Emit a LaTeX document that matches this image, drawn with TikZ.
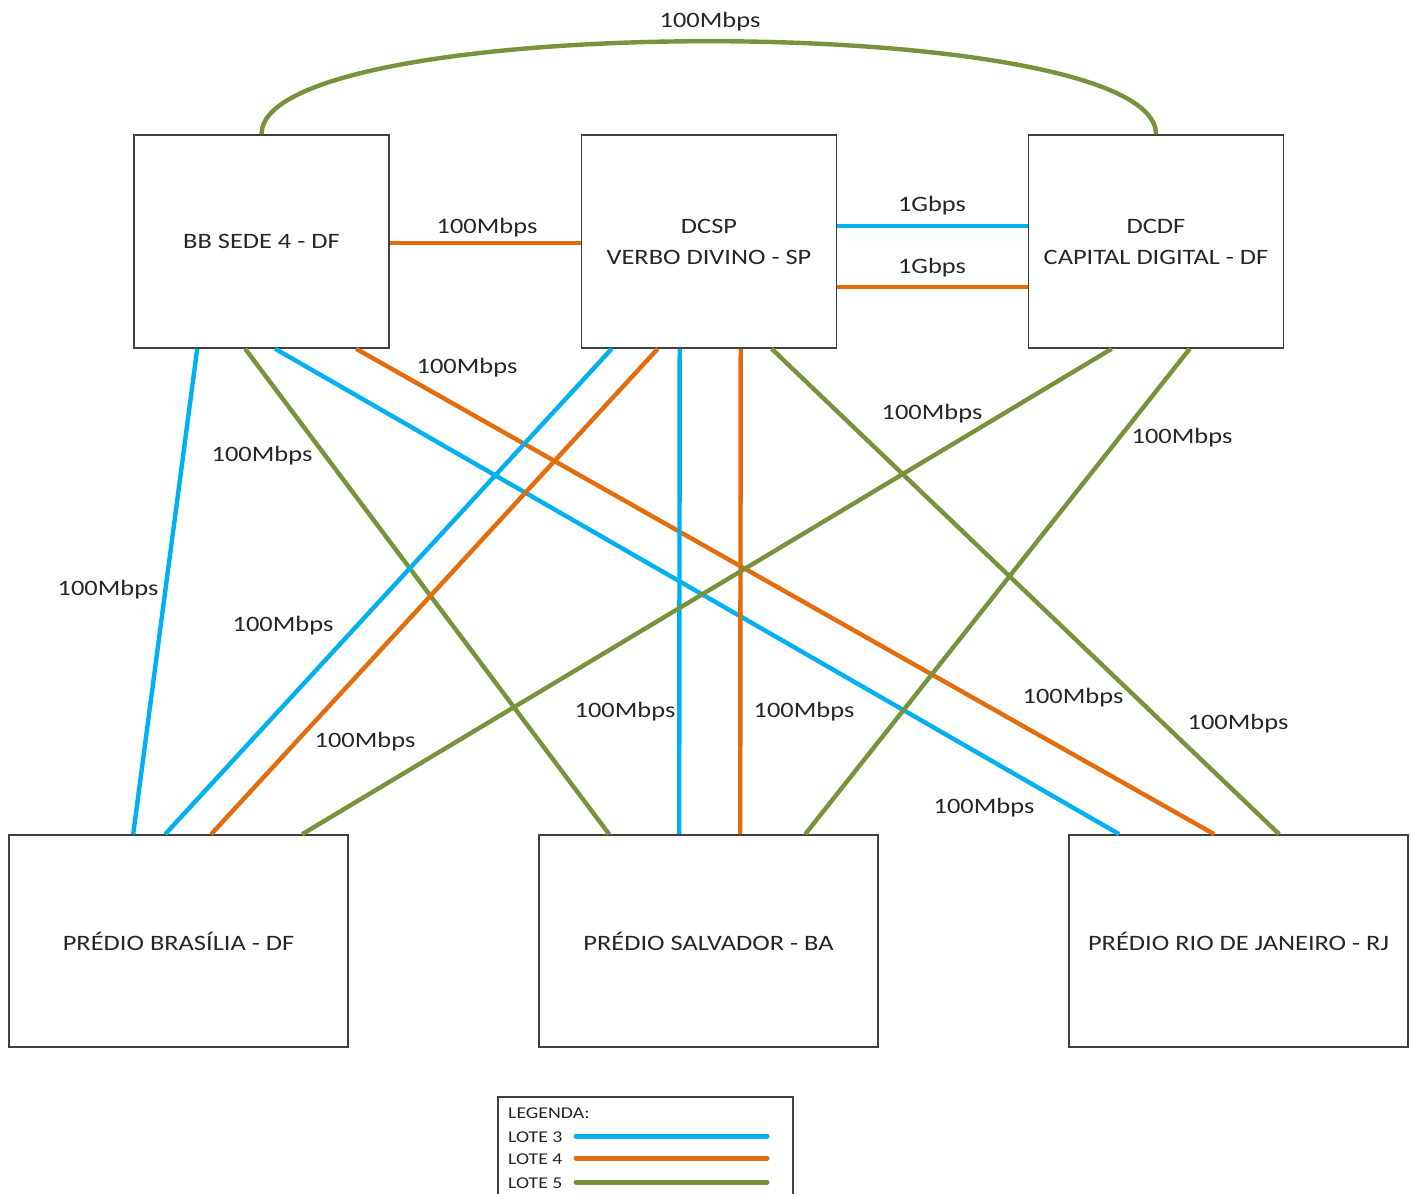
\documentclass[tikz,border=0pt]{standalone}
\usepackage{fontspec}
\setmainfont{Carlito}[FakeStretch=1.2]
\usetikzlibrary{calc}
\definecolor{lblue}{HTML}{00B0F0}
\definecolor{lorange}{HTML}{E46C0A}
\definecolor{lgreen}{HTML}{77933C}
\definecolor{boxgray}{HTML}{404040}
\definecolor{txtgray}{HTML}{262626}
\begin{document}
\begin{tikzpicture}[x=1pt,y=-1pt,
  site/.style={draw=boxgray, line width=1.6pt, fill=white, inner sep=0pt, align=center,
    text=txtgray, font=\fontsize{22}{31}\selectfont},
  small/.style={site, minimum width=255pt, minimum height=213pt},
  big/.style={site, minimum width=339pt, minimum height=212pt},
  lote3/.style={draw=lblue, line width=4.4pt},
  lote4/.style={draw=lorange, line width=4.4pt},
  lote5/.style={draw=lgreen, line width=4.4pt},
  lbl/.style={inner sep=0pt, text=txtgray, font=\fontsize{22}{26}\selectfont},
  legtxt/.style={inner sep=0pt, anchor=west, text=txtgray, font=\fontsize{16.5}{18}\selectfont},
  legline/.style={line width=5pt, line cap=round}
]
\useasboundingbox[fill=white] (0,0) rectangle (1411,1194);

% sites
\node[small] (bb)   at (261.5,241.5) {BB SEDE 4 - DF};
\node[small] (dcsp) at (709,241.5)   {DCSP\\VERBO DIVINO - SP};
\node[small] (dcdf) at (1156,241.5)  {DCDF\\CAPITAL DIGITAL - DF};
\node[big] (bra) at (178.5,941) {PRÉDIO BRASÍLIA - DF};
\node[big] (sal) at (708.5,941) {PRÉDIO SALVADOR - BA};
\node[big] (rio) at (1238.5,941) {PRÉDIO RIO DE JANEIRO - RJ};

% top links
\draw[lote5] (bb.north) .. controls +(0,-124) and +(0,-124) .. (dcdf.north);
\draw[lote4] ([yshift=-1.5pt]bb.east) -- ([yshift=-1.5pt]dcsp.west);
\draw[lote3] ([yshift=15.5pt]dcsp.east) -- ([yshift=15.5pt]dcdf.west);
\draw[lote4] ([yshift=-45.5pt]dcsp.east) -- ([yshift=-45.5pt]dcdf.west);

% from BB SEDE
\draw[lote3] ([xshift=64pt]bb.south west) -- ([xshift=125pt]bra.north west);
\draw[lote5] ([xshift=112pt]bb.south west) -- ([xshift=71pt]sal.north west);
\draw[lote3] ([xshift=142pt]bb.south west) -- ([xshift=51pt]rio.north west);
\draw[lote4] ([xshift=223pt]bb.south west) -- ([xshift=146pt]rio.north west);

% from DCSP
\draw[lote3] ([xshift=31pt]dcsp.south west) -- ([xshift=157pt]bra.north west);
\draw[lote4] ([xshift=77pt]dcsp.south west) -- ([xshift=203pt]bra.north west);
\draw[lote3] ([xshift=99pt]dcsp.south west) -- ([xshift=141pt]sal.north west);
\draw[lote4] ([xshift=160pt]dcsp.south west) -- ([xshift=202pt]sal.north west);
\draw[lote5] ([xshift=191pt]dcsp.south west) -- ([xshift=211pt]rio.north west);

% from DCDF
\draw[lote5] ([xshift=84pt]dcdf.south west) -- ([xshift=294pt]bra.north west);
\draw[lote5] ([xshift=162pt]dcdf.south west) -- ([xshift=267pt]sal.north west);

% labels
\node[lbl] (t0)  at (710,22)   {100Mbps};
\node[lbl] (t1)  at (487,228)  {100Mbps};
\node[lbl] (t2)  at (932,206)  {1Gbps};
\node[lbl] (t3)  at (932,268)  {1Gbps};
\node[lbl] (t4)  at (467,368)  {100Mbps};
\node[lbl] (t5)  at (262,456)  {100Mbps};
\node[lbl] (t6)  at (932,414)  {100Mbps};
\node[lbl] (t7)  at (1182,438) {100Mbps};
\node[lbl] (t8)  at (108,590)  {100Mbps};
\node[lbl] (t9)  at (283,626)  {100Mbps};
\node[lbl] (t10) at (625,712)  {100Mbps};
\node[lbl] (t11) at (804,712)  {100Mbps};
\node[lbl] (t12) at (365,742)  {100Mbps};
\node[lbl] (t13) at (1073,698) {100Mbps};
\node[lbl] (t14) at (1238,724) {100Mbps};
\node[lbl] (t15) at (984,808)  {100Mbps};

% legend
\node[draw=boxgray, line width=1.5pt, fill=white, minimum width=295pt, minimum height=120pt,
  inner sep=0pt, anchor=north west] (leg) at (497,1096) {};
\node[legtxt] (lg0) at (508,1113) {LEGENDA:};
\node[legtxt] (lg3) at (508,1137) {LOTE 3};
\node[legtxt] (lg4) at (508,1159) {LOTE 4};
\node[legtxt] (lg5) at (508,1183) {LOTE 5};
\coordinate (a3) at (576,1136); \coordinate (b3) at (767,1136);
\coordinate (a4) at (576,1158); \coordinate (b4) at (767,1158);
\coordinate (a5) at (576,1182); \coordinate (b5) at (767,1182);
\draw[legline, lblue] (a3) -- (b3);
\draw[legline, lorange] (a4) -- (b4);
\draw[legline, lgreen] (a5) -- (b5);
\end{tikzpicture}
\end{document}
